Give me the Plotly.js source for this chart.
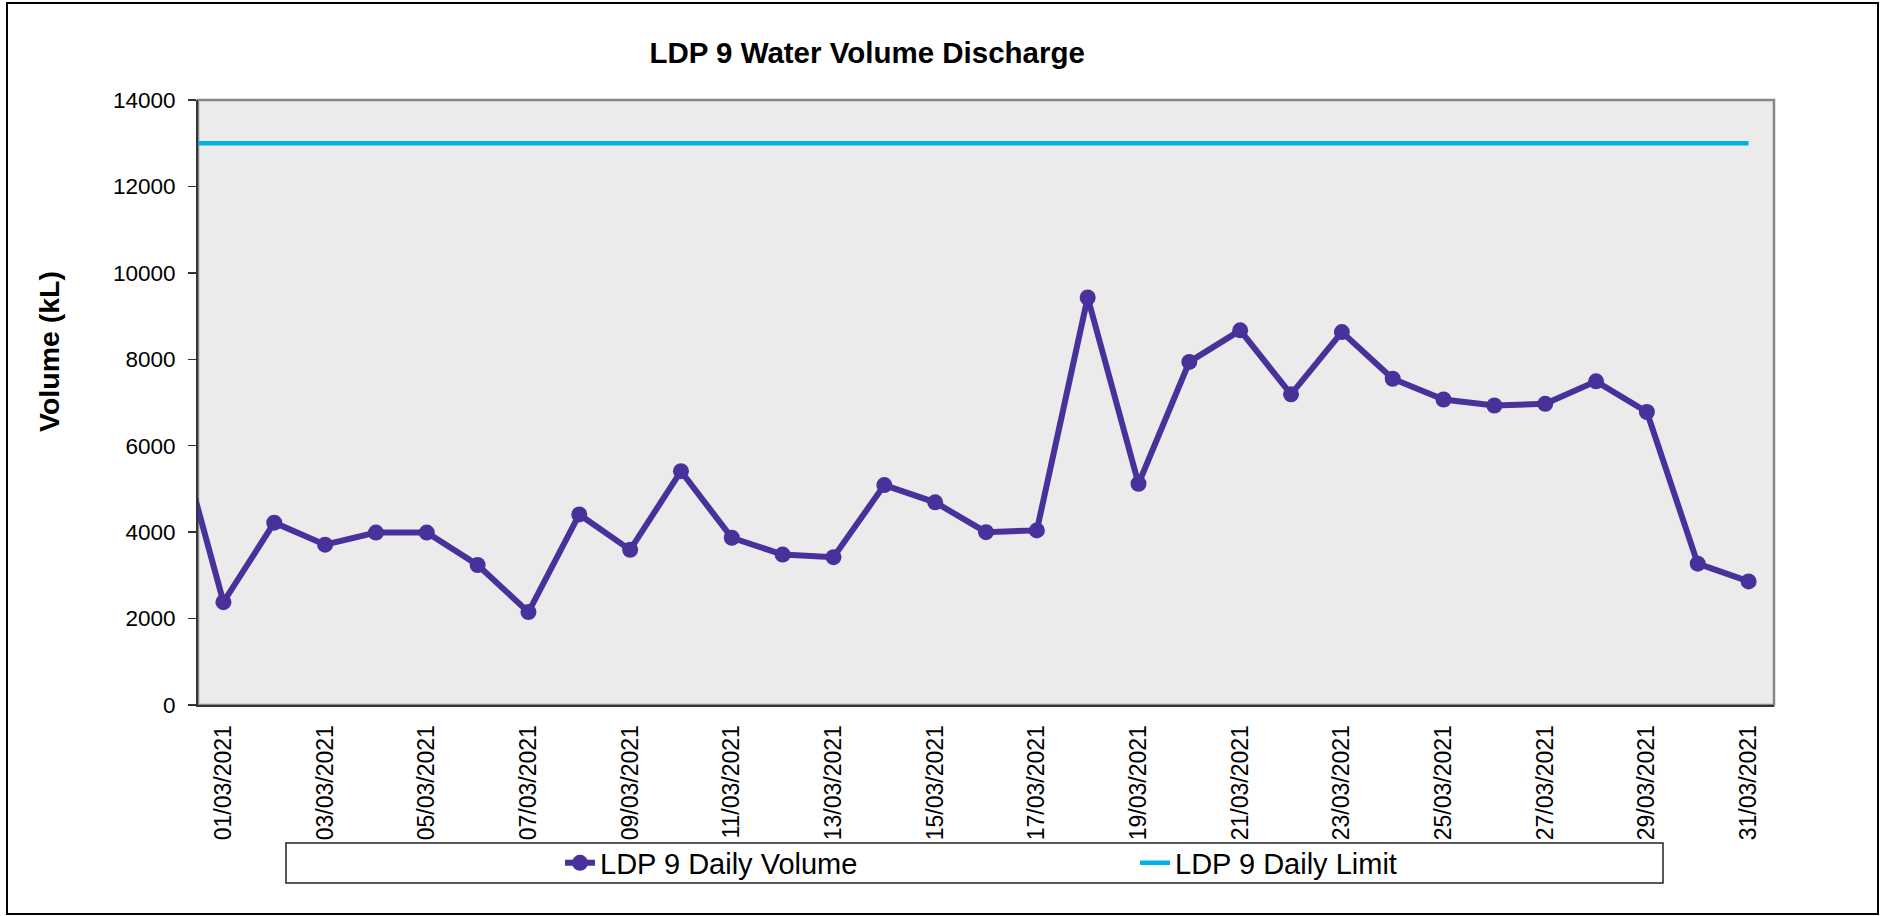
<!DOCTYPE html>
<html>
<head>
<meta charset="utf-8">
<script src="https://cdn.plot.ly/plotly-3.0.1.min.js"></script>
<style>
  html, body { margin: 0; padding: 0; background: #ffffff; }
  #chart { width: 1881px; height: 916px; }
</style>
</head>
<body>
<div id="chart"></div>
<script>
// ---- Data ----
var dates = [
  "28/02/2021",
  "01/03/2021", "02/03/2021", "03/03/2021", "04/03/2021", "05/03/2021",
  "06/03/2021", "07/03/2021", "08/03/2021", "09/03/2021", "10/03/2021",
  "11/03/2021", "12/03/2021", "13/03/2021", "14/03/2021", "15/03/2021",
  "16/03/2021", "17/03/2021", "18/03/2021", "19/03/2021", "20/03/2021",
  "21/03/2021", "22/03/2021", "23/03/2021", "24/03/2021", "25/03/2021",
  "26/03/2021", "27/03/2021", "28/03/2021", "29/03/2021", "30/03/2021",
  "31/03/2021"
];
var dailyVolume = [
  6700,
  2380, 4220, 3710, 3990, 3990,
  3240, 2150, 4410, 3590, 5410,
  3870, 3480, 3420, 5090, 4690,
  4000, 4040, 9430, 5120, 7940,
  8670, 7190, 8630, 7550, 7070,
  6930, 6970, 7490, 6780, 3270,
  2860
];
var limitDates = ["28/02/2021", "31/03/2021"];
var dailyLimit = [13000, 13000];
var tickLabels = [
  "01/03/2021", "03/03/2021", "05/03/2021", "07/03/2021", "09/03/2021",
  "11/03/2021", "13/03/2021", "15/03/2021", "17/03/2021", "19/03/2021",
  "21/03/2021", "23/03/2021", "25/03/2021", "27/03/2021", "29/03/2021",
  "31/03/2021"
];
var yTicks = [0, 2000, 4000, 6000, 8000, 10000, 12000, 14000];

var arial = "Liberation Sans, Arial, sans-serif";

var traces = [
  {
    type: "scatter",
    mode: "lines+markers",
    name: "LDP 9 Daily Volume",
    x: dates,
    y: dailyVolume,
    line: { color: "#48319a", width: 6 },
    marker: { color: "#48319a", size: 16 },
    legend: "legend"
  },
  {
    type: "scatter",
    mode: "lines",
    name: "LDP 9 Daily Limit",
    x: limitDates,
    y: dailyLimit,
    line: { color: "#00b0e6", width: 4.5 },
    legend: "legend2"
  }
];

var layout = {
  width: 1881,
  height: 916,
  margin: { l: 198, r: 107, t: 100, b: 211 },
  paper_bgcolor: "#ffffff",
  plot_bgcolor: "#ebebeb",
  showlegend: true,
  title: {
    text: "LDP 9 Water Volume Discharge",
    font: { family: arial, size: 29.5, weight: "bold", color: "#000000" },
    xref: "container", x: 0.461, xanchor: "center",
    yref: "container", y: 0.943, yanchor: "middle"
  },
  xaxis: {
    type: "category",
    categoryorder: "array",
    categoryarray: dates,
    range: [0.5, 31.5],
    tickmode: "array",
    tickvals: tickLabels,
    ticktext: tickLabels,
    tickangle: -90,
    ticks: "",
    showgrid: false,
    zeroline: false,
    showline: true,
    linecolor: "#333333",
    linewidth: 2,
    ticklabelstandoff: 9,
    tickfont: { family: arial, size: 23, color: "#000000" }
  },
  yaxis: {
    range: [0, 14000],
    tickmode: "array",
    tickvals: yTicks,
    ticktext: yTicks.map(String),
    ticks: "outside",
    ticklen: 8,
    tickwidth: 1.5,
    tickcolor: "#333333",
    showgrid: false,
    zeroline: false,
    showline: true,
    linecolor: "#333333",
    linewidth: 2,
    ticklabelstandoff: 8,
    tickfont: { family: arial, size: 22.5, color: "#000000" }
  },
  legend: {
    orientation: "h",
    x: (560 - 198) / 1576, xanchor: "left",
    y: (705 - 863) / 605, yanchor: "middle",
    bgcolor: "rgba(0,0,0,0)",
    borderwidth: 0,
    font: { family: arial, size: 29, color: "#000000" }
  },
  legend2: {
    orientation: "h",
    x: (1135 - 198) / 1576, xanchor: "left",
    y: (705 - 863) / 605, yanchor: "middle",
    bgcolor: "rgba(0,0,0,0)",
    borderwidth: 0,
    font: { family: arial, size: 29, color: "#000000" }
  },
  annotations: [
    {
      text: "Volume (kL)",
      textangle: -90,
      xref: "paper", yref: "paper",
      x: (49 - 198) / 1576, y: (705 - 352) / 605,
      xanchor: "center", yanchor: "middle",
      showarrow: false,
      font: { family: arial, size: 28.5, weight: "bold", color: "#000000" }
    }
  ],
  shapes: [
    {
      type: "rect", xref: "paper", yref: "paper",
      x0: 0, x1: 1, y0: 0, y1: 1,
      line: { color: "#888888", width: 2.5 },
      layer: "below"
    },
    {
      type: "rect", xref: "paper", yref: "paper",
      x0: (7 - 198) / 1576, x1: (1878 - 198) / 1576,
      y0: (705 - 914) / 605, y1: (705 - 3) / 605,
      line: { color: "#000000", width: 2 }
    },
    {
      type: "rect", xref: "paper", yref: "paper",
      x0: (286 - 198) / 1576, x1: (1663 - 198) / 1576,
      y0: (705 - 883) / 605, y1: (705 - 843) / 605,
      line: { color: "#222222", width: 1.5 }
    }
  ]
};

Plotly.newPlot("chart", traces, layout, { displayModeBar: false, staticPlot: true });
</script>
</body>
</html>
